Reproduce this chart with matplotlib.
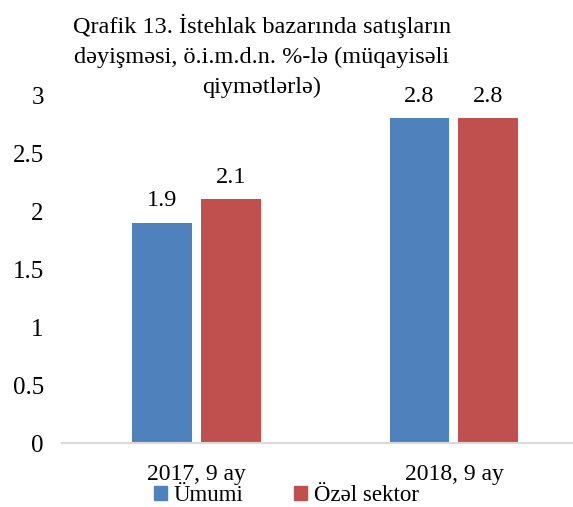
import matplotlib.pyplot as plt
from matplotlib.patches import Patch
import numpy as np

plt.rcParams['font.family'] = ['Liberation Serif', 'DejaVu Serif']

# Data
categories = ['2017, 9 ay', '2018, 9 ay']
umumi = [1.9, 2.8]
ozel = [2.1, 2.8]
series_names = ['Ümumi', 'Özəl sektor']
yticks = [0, 0.5, 1, 1.5, 2, 2.5, 3]
title_lines = ['Qrafik 13. İstehlak bazarında satışların',
               'dəyişməsi, ö.i.m.d.n. %-lə (müqayisəli',
               'qiymətlərlə)']

blue = '#4F81BD'
red = '#C0504D'

fig = plt.figure(figsize=(5.73, 5.07), dpi=100)
ax = fig.add_axes([0.108, 0.126, 0.892, 0.6866])

x = np.arange(len(categories))
w = 0.233
off = 0.134
b1 = ax.bar(x - off, umumi, w, color=blue)
b2 = ax.bar(x + off, ozel, w, color=red)

for bars, vals in [(b1, umumi), (b2, ozel)]:
    for b, v in zip(bars, vals):
        ax.text(b.get_x() + b.get_width() / 2, v + 0.1, f'{v:.1f}',
                ha='center', va='bottom', fontsize=17.5)

ax.set_xlim(-0.525, 1.463)
ax.set_ylim(0, 3)
ax.set_yticks(yticks)
ax.set_yticklabels([f'{t:g}' for t in yticks])
ax.set_xticks(x)
ax.set_xticklabels(categories)
ax.tick_params(axis='y', length=0, labelsize=18, pad=13)
ax.tick_params(axis='x', length=0, labelsize=17, pad=15)
for s in ['top', 'right', 'left']:
    ax.spines[s].set_visible(False)
ax.spines['bottom'].set_color('#D9D9D9')
ax.spines['bottom'].set_linewidth(1.5)

# title, one text per line (baselines in pixels from top)
for line, ypx in zip(title_lines, [33, 63, 93]):
    fig.text(0.457, 1 - ypx / 507, line, ha='center', va='baseline',
             fontsize=17.5)

handles = [Patch(color=blue), Patch(color=red)]
fig.legend(handles, series_names, loc='lower center', ncol=2,
           bbox_to_anchor=(0.5, -0.034), frameon=False, fontsize=16.5,
           handlelength=0.55, handleheight=0.55, handletextpad=0.3,
           columnspacing=2.2, borderpad=0.3)

fig.savefig('out.png', dpi=100)
